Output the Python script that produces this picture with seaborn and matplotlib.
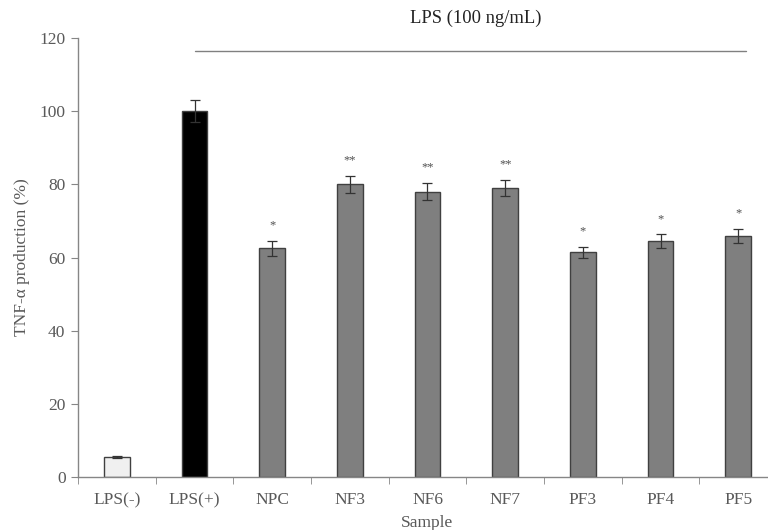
import matplotlib
matplotlib.use("Agg")
import matplotlib.pyplot as plt
import numpy as np
import pandas as pd
import seaborn as sns

samples = ["LPS(-)", "LPS(+)", "NPC", "NF3", "NF6", "NF7", "PF3", "PF4", "PF5"]
tnf = [5.5, 100.0, 62.5, 80.0, 78.0, 79.0, 61.5, 64.5, 66.0]
sd = [0.3, 3.0, 2.0, 2.3, 2.4, 2.2, 1.5, 1.8, 1.9]
marks = ["", "", "*", "**", "**", "**", "*", "*", "*"]
bar_colors = ["#f0f0f0", "#000000"] + ["#7f7f7f"] * 7

df = pd.DataFrame({"Sample": samples, "TNF": tnf, "sd": sd, "mark": marks})

sns.set_style("white")
plt.rcParams["font.family"] = ["Liberation Serif", "DejaVu Serif"]
txt = "#595959"
axcol = "#868686"
fs = 12.5

fig = plt.figure(figsize=(7.68, 5.30), dpi=100)
ax = fig.add_axes([78 / 768, 53 / 530, 699 / 768, 439 / 530])

sns.barplot(data=df, x="Sample", y="TNF", hue="Sample", palette=bar_colors,
            width=0.33, edgecolor="#404040", linewidth=1.0, legend=False, ax=ax)

xpos = np.arange(len(samples))
ax.errorbar(xpos, df["TNF"], yerr=df["sd"], fmt="none", ecolor="#333333",
            elinewidth=0.9, capsize=3.5, capthick=0.9)
for x, y, e, m in zip(xpos, df["TNF"], df["sd"], df["mark"]):
    if m:
        ax.text(x, y + e + 2.6, m, ha="center", va="bottom", fontsize=9, color="#505050")

ax.set_xlim(-0.5, len(samples) - 0.5)
ax.set_ylim(0, 120)
ax.set_yticks(range(0, 121, 20))
ax.set_xticks(np.arange(-0.5, len(samples), 1.0), minor=True)
ax.tick_params(axis="x", which="major", length=0, pad=11, labelsize=fs, labelcolor=txt)
ax.tick_params(axis="x", which="minor", length=5, color=axcol, direction="out", bottom=True)
ax.tick_params(axis="y", length=5, color=axcol, direction="out", left=True,
               labelsize=fs, labelcolor=txt, pad=4)
for side in ["top", "right"]:
    ax.spines[side].set_visible(False)
for side in ["left", "bottom"]:
    ax.spines[side].set_color(axcol)
    ax.spines[side].set_linewidth(1.0)

ax.set_xlabel("Sample", fontsize=fs, color=txt, labelpad=5)
ax.set_ylabel("TNF-α production (%)", fontsize=fs, color=txt, labelpad=7)

# LPS treatment bracket
ax.plot([1.0, 8.1], [116.4, 116.4], color="#808080", lw=1.0, clip_on=False)
ax.text(4.62, 125.5, "LPS (100 ng/mL)", ha="center", va="center", fontsize=13.4,
        color="#222222", clip_on=False)

fig.savefig("out.png", dpi=100)
